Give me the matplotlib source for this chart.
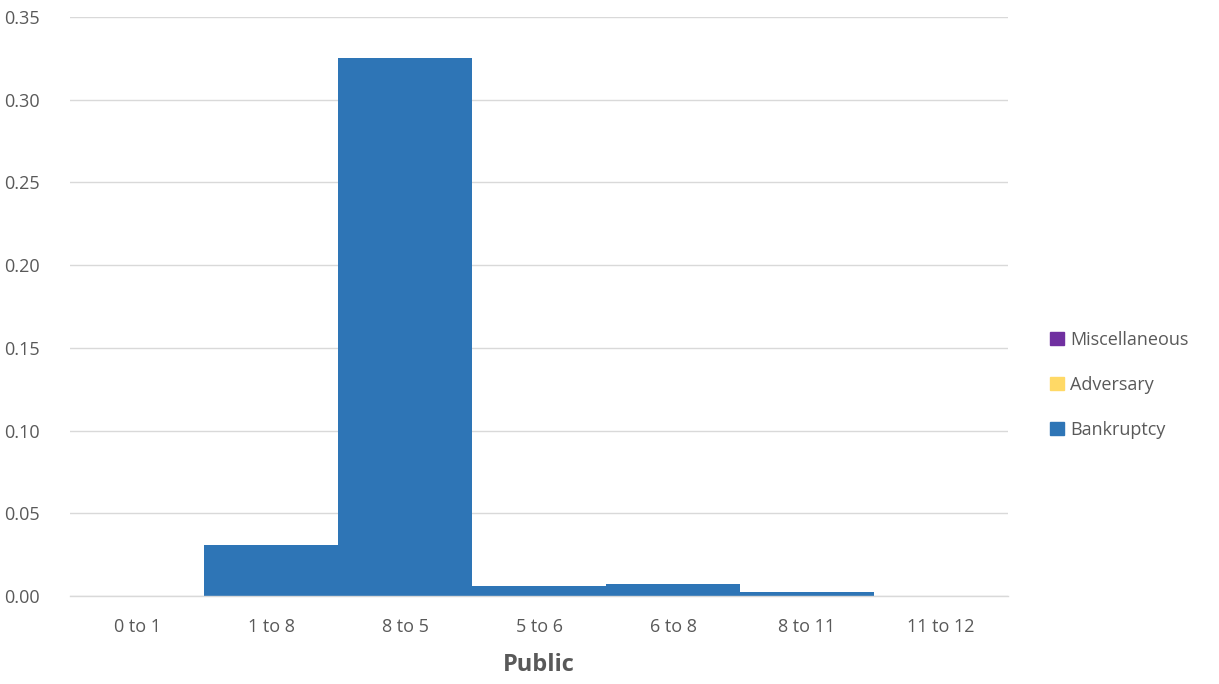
import matplotlib
matplotlib.use("Agg")
import matplotlib.pyplot as plt
from matplotlib.patches import Patch
import numpy as np

categories = ["0 to 1", "1 to 8", "8 to 5", "5 to 6", "6 to 8", "8 to 11", "11 to 12"]
bankruptcy = [0.0, 0.031, 0.325, 0.006, 0.0073, 0.0024, 0.0]
adversary = [0.0, 0.0, 0.0, 0.0, 0.0, 0.0, 0.0]
miscellaneous = [0.0, 0.0, 0.0, 0.0, 0.0, 0.0, 0.0]
yticks = [0.00, 0.05, 0.10, 0.15, 0.20, 0.25, 0.30, 0.35]

c_bank = "#2E75B6"
c_adv = "#FFD966"
c_misc = "#7030A0"
txt = "#595959"
grid = "#D9D9D9"

plt.rcParams['font.family'] = ['Open Sans', 'DejaVu Sans']

fig = plt.figure(figsize=(12.19, 6.84), dpi=100)
ax = fig.add_axes([70/1219, 88/684, (1008-70)/1219, (596-17)/684])

x = np.arange(len(categories))
b = np.array(bankruptcy)
a = np.array(adversary)
m = np.array(miscellaneous)
ax.bar(x, b, width=1.0, color=c_bank, zorder=3)
ax.bar(x, a, width=1.0, bottom=b, color=c_adv, zorder=3)
ax.bar(x, m, width=1.0, bottom=b + a, color=c_misc, zorder=3)

ax.set_xlim(-0.5, len(categories) - 0.5)
ax.set_ylim(0, 0.35)
ax.set_yticks(yticks)
ax.set_yticklabels([f"{v:.2f}" for v in yticks])
ax.set_xticks(x)
ax.set_xticklabels(categories)
ax.tick_params(axis='both', length=0, labelsize=13, colors=txt)
ax.tick_params(axis='y', pad=22)
ax.tick_params(axis='x', pad=16)
ax.yaxis.grid(True, color=grid, linewidth=1, zorder=0)
for s in ["top", "right", "left"]:
    ax.spines[s].set_visible(False)
ax.spines["bottom"].set_color(grid)
ax.spines["bottom"].set_linewidth(1)
ax.spines["bottom"].set_zorder(4)

ax.set_xlabel("Public", fontsize=17, fontweight='bold', color=txt, labelpad=12)

handles = [Patch(color=c_misc, label="Miscellaneous"),
           Patch(color=c_adv, label="Adversary"),
           Patch(color=c_bank, label="Bankruptcy")]
leg = fig.legend(handles=handles, loc="center left", bbox_to_anchor=(1034/1219, 1 - 385/684),
                 frameon=False, fontsize=13, handlelength=0.75, handleheight=0.75,
                 handletextpad=0.35, labelspacing=1.5, labelcolor=txt)

fig.savefig("out.png", dpi=100)
